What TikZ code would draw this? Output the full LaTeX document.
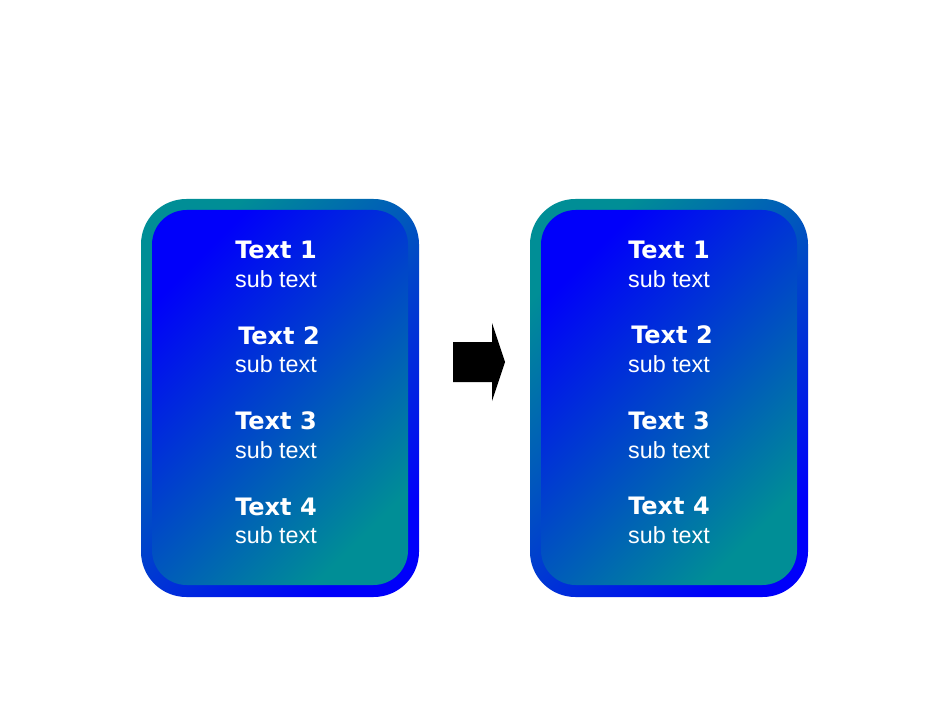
\documentclass[tikz,border=0pt]{standalone}
\usepackage{fontspec}
\setmainfont{Liberation Sans}
\newfontfamily\headfont{DejaVu Sans}
\usepackage{tikz}
\definecolor{tealish}{RGB}{0,142,150}
\definecolor{deepblue}{RGB}{0,0,250}
\tikzstyle{outerbox} = [rounded corners=34pt, top color=tealish, bottom color=deepblue, shading angle=45]
\tikzstyle{innerbox} = [rounded corners=26pt, top color=deepblue, bottom color=tealish, shading angle=45]
\tikzstyle{headlabel} = [anchor=base, text=white, inner sep=0pt, font=\headfont\bfseries\fontsize{18}{21}\selectfont]
\tikzstyle{sublabel} = [anchor=base, text=white, inner sep=0pt, font=\fontsize{17.5}{20}\selectfont]

\begin{document}
\begin{tikzpicture}[x=0.75pt, y=-0.75pt]
  \useasboundingbox (0,0) rectangle (950,713);

  \shade[outerbox] (141,199) rectangle (419,597);
  \shade[innerbox] (152,210) rectangle (408,585);
  \node[headlabel] (hA1) at (276,258) {Text 1};
  \node[sublabel] (sA1) at (276,287) {sub text};
  \node[headlabel] (hA2) at (279,344) {Text 2};
  \node[sublabel] (sA2) at (276,372) {sub text};
  \node[headlabel] (hA3) at (276,429) {Text 3};
  \node[sublabel] (sA3) at (276,458) {sub text};
  \node[headlabel] (hA4) at (276,515) {Text 4};
  \node[sublabel] (sA4) at (276,543) {sub text};

  \fill[black] (453,342) -- (492,342) -- (492,323) -- (505,362) -- (492,401) -- (492,382) -- (453,382) -- cycle;

  \shade[outerbox] (530,199) rectangle (808,597);
  \shade[innerbox] (541,210) rectangle (797,585);
  \node[headlabel] (hB1) at (669,258) {Text 1};
  \node[sublabel] (sB1) at (669,287) {sub text};
  \node[headlabel] (hB2) at (672,343) {Text 2};
  \node[sublabel] (sB2) at (669,372) {sub text};
  \node[headlabel] (hB3) at (669,429) {Text 3};
  \node[sublabel] (sB3) at (669,458) {sub text};
  \node[headlabel] (hB4) at (669,514) {Text 4};
  \node[sublabel] (sB4) at (669,543) {sub text};

\end{tikzpicture}
\end{document}
